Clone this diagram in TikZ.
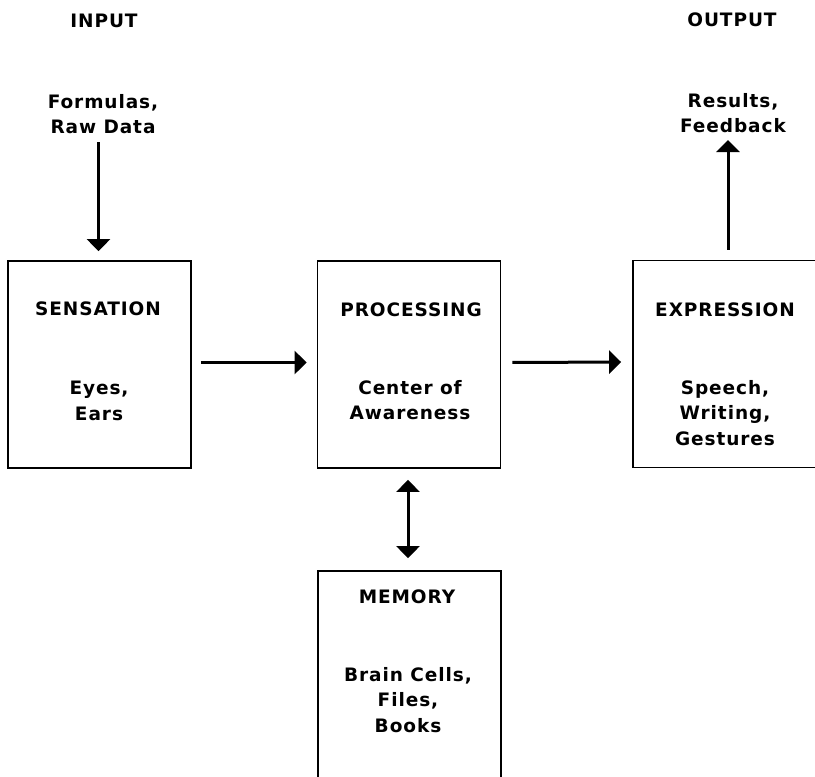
\documentclass[tikz,border=0pt]{standalone}
\usepackage{fontspec}
\setmainfont{DejaVu Sans}[BoldFont={DejaVu Sans Bold}]
\newfontfamily\boxfont{DejaVu Sans Bold}[LetterSpace=5]
\usetikzlibrary{arrows.meta}
\tikzset{
  stagebox/.style={draw, line width=1.8pt, rectangle, inner sep=0pt,
    minimum width=183pt, minimum height=207pt},
  lbl/.style={font=\boxfont\fontsize{18.5}{25.5}\selectfont, align=center, inner sep=0pt},
  flow/.style={line width=3pt, -{Triangle[width=23pt,length=12pt]}},
  twoway/.style={line width=3pt, {Triangle[width=23pt,length=12pt]}-{Triangle[width=23pt,length=12pt]}}
}
\begin{document}
\begin{tikzpicture}[x=1pt,y=-1pt]
  \useasboundingbox (0,0) rectangle (815,777);
  \fill[white] (0,0) rectangle (815,777);
  \clip (0,0) rectangle (815,777);

  % stage boxes
  \node[stagebox] (sens) at (99.5,364.5) {};
  \node[stagebox] (proc) at (409,364.5) {};
  \node[stagebox] (expr) at (724.5,364) {};
  \node[stagebox, minimum height=260pt] (mem) at (409.5,701) {};

  % headings and labels
  \node[lbl] (inhead)  at (104,21)  {INPUT};
  \node[lbl] (outhead) at (732,20)  {OUTPUT};
  \node[lbl] (inp)     at (103,114) {Formulas,\\Raw Data};
  \node[lbl] (outp)    at (733,113) {Results,\\Feedback};

  \node[lbl] (senst) at (98,309)  {SENSATION};
  \node[lbl] (sensb) at (99,401)  {Eyes,\\Ears};
  \node[lbl] (proct) at (411,310) {PROCESSING};
  \node[lbl] (procb) at (410,400) {Center of\\Awareness};
  \node[lbl] (exprt) at (725,310) {EXPRESSION};
  \node[lbl] (exprb) at (725,413) {Speech,\\Writing,\\Gestures};
  \node[lbl] (memt)  at (407,597) {MEMORY};
  \node[lbl] (memb)  at (408,700) {Brain Cells,\\Files,\\Books};

  % free ends of the input and output arrows
  \coordinate (infoot) at (98.5,142);
  \coordinate (outtip) at (728,140);

  % connectors
  \draw[flow, shorten >=9pt] (infoot) -- (sens.north -| infoot);
  \draw[flow, shorten <=9pt, shorten >=10pt] ([yshift=2pt]sens.east) -- ([yshift=2pt]proc.west);
  \draw[flow, shorten <=11pt, shorten >=11pt] ([yshift=2pt]proc.east) -- ([yshift=2pt]expr.west);
  \draw[flow, shorten <=10pt] ([xshift=3.5pt]expr.north) -- (outtip);
  \draw[twoway, shorten <=11pt, shorten >=12pt] ([xshift=-1pt]proc.south) -- ([xshift=-1.5pt]mem.north);
\end{tikzpicture}
\end{document}
